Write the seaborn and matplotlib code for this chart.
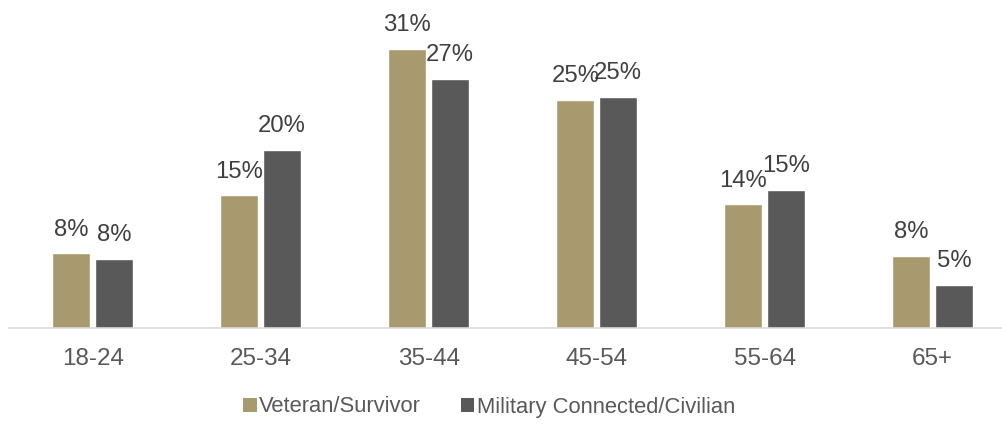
import matplotlib
matplotlib.use("Agg")
import matplotlib.pyplot as plt
import seaborn as sns
import pandas as pd
from matplotlib.patches import Patch

categories = ["18-24", "25-34", "35-44", "45-54", "55-64", "65+"]
veteran = [8.2, 14.6, 30.7, 25.1, 13.6, 7.9]
military = [7.6, 19.6, 27.4, 25.4, 15.2, 4.7]
series_names = ["Veteran/Survivor", "Military Connected/Civilian"]
colors = ["#A8996E", "#595959"]

df = pd.DataFrame({
    "age": categories * 2,
    "value": veteran + military,
    "group": [series_names[0]] * len(categories) + [series_names[1]] * len(categories),
})

sns.set_theme(style="white")
plt.rcParams["font.family"] = ["Liberation Sans", "DejaVu Sans"]

W, H = 1003, 428
fig = plt.figure(figsize=(W / 100, H / 100), dpi=100)
left = 8.7 / W
base = (H - 327.5) / H
ymax = 35
height = ymax * 9.075 / H
width = 1008 / W
ax = fig.add_axes([left, base, width, height])

sns.barplot(data=df, x="age", y="value", hue="group", order=categories,
            hue_order=series_names, palette=colors, width=0.508, gap=0.11,
            saturation=1, ax=ax, legend=False, errorbar=None)

ax.set_ylim(0, ymax)
ax.set_xlim(-0.5, len(categories) - 0.5)
ax.set_xlabel("")
ax.set_ylabel("")
ax.set_yticks([])
for s in ["top", "left", "right"]:
    ax.spines[s].set_visible(False)
ax.spines["bottom"].set_color("#d9d9d9")
ax.spines["bottom"].set_linewidth(1.1)
ax.tick_params(axis="x", length=0, pad=15, labelsize=17.5, labelcolor="#595959")

for cont in ax.containers:
    ax.bar_label(cont, labels=[f"{round(b.get_height()):.0f}%" for b in cont],
                 padding=9, fontsize=17.2, color="#404040")

handles = [Patch(facecolor=c, edgecolor="none") for c in colors]
fig.legend(handles, series_names, loc="center", bbox_to_anchor=(489 / W, 1 - 407 / H),
           ncol=2, frameon=False, fontsize=15.8, handlelength=0.63, handleheight=0.63,
           handletextpad=0.12, columnspacing=1.8, labelcolor="#595959")

fig.savefig("out.png", dpi=100)
